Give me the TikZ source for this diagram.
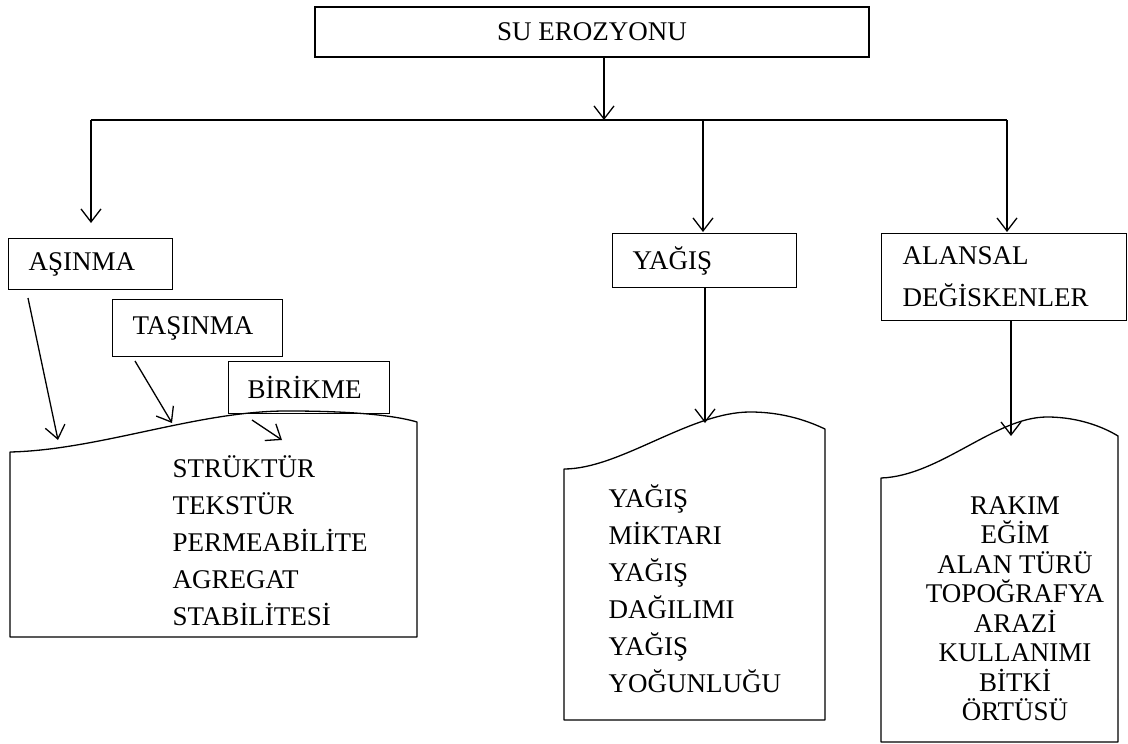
\documentclass[tikz,border=0pt]{standalone}
\usepackage{fontspec}
\setmainfont{Liberation Serif}
\usetikzlibrary{arrows.meta}
\begin{document}
\begin{tikzpicture}[x=1pt,y=-1pt,line width=1.3pt,
  box/.style={draw, rectangle, anchor=north west, inner xsep=20pt, inner ysep=0pt, align=left, font=\fontsize{27}{42}\selectfont},
  arr/.style={-{Straight Barb[length=13pt,width=20pt,line width=1.3pt]}},
  doctext/.style={inner sep=0pt, font=\fontsize{27}{37}\selectfont},
  doc/.style={draw, line join=round}]
\useasboundingbox (0,0) rectangle (1128,744);
% top box
\node[draw, rectangle, minimum width=554pt, minimum height=50pt, inner sep=0pt, font=\fontsize{27}{33}\selectfont] (top) at (592,32) {SU EROZYONU};
% second level boxes
\node[box, text width=124pt, minimum height=51pt] (asinma) at (8,238) {AŞINMA};
\node[box, text width=130pt, minimum height=57pt] (tasinma) at (112,299) {TAŞINMA};
\node[box, text width=123pt, minimum height=52pt, inner xsep=19pt] (birikme) at (228,361) {BİRİKME};
\node[box, text width=144pt, minimum height=54pt] (yagis) at (612,233) {YAĞIŞ};
\node[box, text width=203pt, minimum height=87pt, inner xsep=21pt] (alansal) at (881,233) {ALANSAL\\DEĞİSKENLER};
% junction coordinates
\coordinate (j0) at (604,120);
\coordinate (jl) at (91,120);
\coordinate (jm) at (703,120);
\coordinate (jr) at (1007,120);
\coordinate (al) at (91,223);
\coordinate (am) at (703,232);
\coordinate (ar) at (1007,232);
\draw[arr] (j0 |- top.south) -- (j0);
\draw (jl) -- (jr);
\draw[arr] (jl) -- (al);
\draw[arr] (jm) -- (am);
\draw[arr] (jr) -- (ar);
% document shapes
\draw[doc] (10,637) -- (10,452) .. controls (100,450) and (200,410) .. (290,411) .. controls (340,411) and (390,414) .. (417,422) -- (417,637) -- cycle;
\draw[doc] (564,720) -- (564,469) .. controls (620,469) and (690,412) .. (750,412) .. controls (785,412) and (810,422) .. (825,429) -- (825,720) -- cycle;
\draw[doc] (881,742) -- (881,478) .. controls (940,476) and (995,417) .. (1047,417) .. controls (1080,417) and (1105,428) .. (1118,436) -- (1118,742) -- cycle;
% diagonal arrows into left document
\coordinate (s1) at (28,298);
\coordinate (e1) at (58,440);
\coordinate (s2) at (135,361);
\coordinate (e2) at (172,423);
\coordinate (s3) at (252,420);
\coordinate (e3) at (282,440);
\draw[arr] (s1) -- (e1);
\draw[arr] (s2) -- (e2);
\draw[arr] (s3) -- (e3);
% vertical arrows into documents
\coordinate (em) at (705,423);
\coordinate (er) at (1011,436);
\draw[arr] (yagis.south -| em) -- (em);
\draw[arr] (alansal.south -| er) -- (er);
% document texts
\node[doctext, anchor=north west, align=left] (soil) at (172,451) {\strut STRÜKTÜR\\TEKSTÜR\\PERMEABİLİTE\\AGREGAT\\STABİLİTESİ};
\node[doctext, anchor=north west, align=left] (rain) at (608,481) {\strut YAĞIŞ\\MİKTARI\\YAĞIŞ\\DAĞILIMI\\YAĞIŞ\\YOĞUNLUĞU};
\node[doctext, anchor=north, align=center, font=\fontsize{27}{29.5}\selectfont] (area) at (1015,496) {RAKIM\\EĞİM\\ALAN TÜRÜ\\TOPOĞRAFYA\\ARAZİ\\KULLANIMI\\BİTKİ\\ÖRTÜSÜ};
\end{tikzpicture}
\end{document}
